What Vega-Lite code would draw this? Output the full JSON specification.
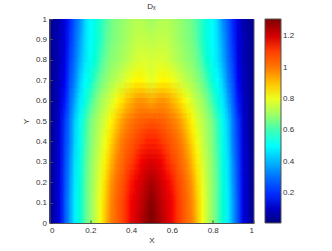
{"$schema":"https://vega.github.io/schema/vega-lite/v6.json","width":204,"height":204,"autosize":"none","padding":{"left":49.5,"top":19,"right":78.5,"bottom":28},"background":"white","title":{"text":"Dₓ","fontSize":8,"font":"Liberation Sans","fontWeight":"normal","color":"#333","offset":4},"config":{"view":{"stroke":"#555","strokeWidth":1}},"data":{"values":[
{"x":0,"y":0,"v":0.03},{"x":0.025,"y":0,"v":0.08},{"x":0.05,"y":0,"v":0.14},{"x":0.075,"y":0,"v":0.25},{"x":0.1,"y":0,"v":0.37},{"x":0.125,"y":0,"v":0.48},{"x":0.15,"y":0,"v":0.56},{"x":0.175,"y":0,"v":0.62},{"x":0.2,"y":0,"v":0.68},{"x":0.225,"y":0,"v":0.75},{"x":0.25,"y":0,"v":0.81},{"x":0.275,"y":0,"v":0.9},{"x":0.3,"y":0,"v":0.98},{"x":0.325,"y":0,"v":1.03},{"x":0.35,"y":0,"v":1.08},{"x":0.375,"y":0,"v":1.12},{"x":0.4,"y":0,"v":1.16},{"x":0.425,"y":0,"v":1.2},{"x":0.45,"y":0,"v":1.24},{"x":0.475,"y":0,"v":1.28},{"x":0.5,"y":0,"v":1.31},{"x":0.525,"y":0,"v":1.28},{"x":0.55,"y":0,"v":1.24},{"x":0.575,"y":0,"v":1.2},{"x":0.6,"y":0,"v":1.16},{"x":0.625,"y":0,"v":1.12},{"x":0.65,"y":0,"v":1.08},{"x":0.675,"y":0,"v":1.03},{"x":0.7,"y":0,"v":0.98},{"x":0.725,"y":0,"v":0.9},{"x":0.75,"y":0,"v":0.81},{"x":0.775,"y":0,"v":0.75},{"x":0.8,"y":0,"v":0.68},{"x":0.825,"y":0,"v":0.62},{"x":0.85,"y":0,"v":0.56},{"x":0.875,"y":0,"v":0.48},{"x":0.9,"y":0,"v":0.37},{"x":0.925,"y":0,"v":0.25},{"x":0.95,"y":0,"v":0.14},{"x":0.975,"y":0,"v":0.08},{"x":1,"y":0,"v":0.03},
{"x":0,"y":0.1,"v":0.03},{"x":0.025,"y":0.1,"v":0.08},{"x":0.05,"y":0.1,"v":0.14},{"x":0.075,"y":0.1,"v":0.25},{"x":0.1,"y":0.1,"v":0.37},{"x":0.125,"y":0.1,"v":0.48},{"x":0.15,"y":0.1,"v":0.56},{"x":0.175,"y":0.1,"v":0.62},{"x":0.2,"y":0.1,"v":0.68},{"x":0.225,"y":0.1,"v":0.75},{"x":0.25,"y":0.1,"v":0.81},{"x":0.275,"y":0.1,"v":0.89},{"x":0.3,"y":0.1,"v":0.97},{"x":0.325,"y":0.1,"v":1.03},{"x":0.35,"y":0.1,"v":1.08},{"x":0.375,"y":0.1,"v":1.12},{"x":0.4,"y":0.1,"v":1.16},{"x":0.425,"y":0.1,"v":1.19},{"x":0.45,"y":0.1,"v":1.22},{"x":0.475,"y":0.1,"v":1.26},{"x":0.5,"y":0.1,"v":1.3},{"x":0.525,"y":0.1,"v":1.26},{"x":0.55,"y":0.1,"v":1.22},{"x":0.575,"y":0.1,"v":1.19},{"x":0.6,"y":0.1,"v":1.16},{"x":0.625,"y":0.1,"v":1.12},{"x":0.65,"y":0.1,"v":1.08},{"x":0.675,"y":0.1,"v":1.03},{"x":0.7,"y":0.1,"v":0.97},{"x":0.725,"y":0.1,"v":0.89},{"x":0.75,"y":0.1,"v":0.81},{"x":0.775,"y":0.1,"v":0.75},{"x":0.8,"y":0.1,"v":0.68},{"x":0.825,"y":0.1,"v":0.62},{"x":0.85,"y":0.1,"v":0.56},{"x":0.875,"y":0.1,"v":0.48},{"x":0.9,"y":0.1,"v":0.37},{"x":0.925,"y":0.1,"v":0.25},{"x":0.95,"y":0.1,"v":0.14},{"x":0.975,"y":0.1,"v":0.08},{"x":1,"y":0.1,"v":0.03},
{"x":0,"y":0.2,"v":0.03},{"x":0.025,"y":0.2,"v":0.08},{"x":0.05,"y":0.2,"v":0.14},{"x":0.075,"y":0.2,"v":0.24},{"x":0.1,"y":0.2,"v":0.36},{"x":0.125,"y":0.2,"v":0.47},{"x":0.15,"y":0.2,"v":0.55},{"x":0.175,"y":0.2,"v":0.62},{"x":0.2,"y":0.2,"v":0.68},{"x":0.225,"y":0.2,"v":0.74},{"x":0.25,"y":0.2,"v":0.8},{"x":0.275,"y":0.2,"v":0.87},{"x":0.3,"y":0.2,"v":0.95},{"x":0.325,"y":0.2,"v":1.01},{"x":0.35,"y":0.2,"v":1.06},{"x":0.375,"y":0.2,"v":1.1},{"x":0.4,"y":0.2,"v":1.14},{"x":0.425,"y":0.2,"v":1.17},{"x":0.45,"y":0.2,"v":1.2},{"x":0.475,"y":0.2,"v":1.23},{"x":0.5,"y":0.2,"v":1.25},{"x":0.525,"y":0.2,"v":1.23},{"x":0.55,"y":0.2,"v":1.2},{"x":0.575,"y":0.2,"v":1.17},{"x":0.6,"y":0.2,"v":1.14},{"x":0.625,"y":0.2,"v":1.1},{"x":0.65,"y":0.2,"v":1.06},{"x":0.675,"y":0.2,"v":1.01},{"x":0.7,"y":0.2,"v":0.95},{"x":0.725,"y":0.2,"v":0.87},{"x":0.75,"y":0.2,"v":0.8},{"x":0.775,"y":0.2,"v":0.74},{"x":0.8,"y":0.2,"v":0.68},{"x":0.825,"y":0.2,"v":0.62},{"x":0.85,"y":0.2,"v":0.55},{"x":0.875,"y":0.2,"v":0.47},{"x":0.9,"y":0.2,"v":0.36},{"x":0.925,"y":0.2,"v":0.24},{"x":0.95,"y":0.2,"v":0.14},{"x":0.975,"y":0.2,"v":0.08},{"x":1,"y":0.2,"v":0.03},
{"x":0,"y":0.3,"v":0.03},{"x":0.025,"y":0.3,"v":0.08},{"x":0.05,"y":0.3,"v":0.13},{"x":0.075,"y":0.3,"v":0.23},{"x":0.1,"y":0.3,"v":0.35},{"x":0.125,"y":0.3,"v":0.46},{"x":0.15,"y":0.3,"v":0.54},{"x":0.175,"y":0.3,"v":0.61},{"x":0.2,"y":0.3,"v":0.67},{"x":0.225,"y":0.3,"v":0.73},{"x":0.25,"y":0.3,"v":0.78},{"x":0.275,"y":0.3,"v":0.84},{"x":0.3,"y":0.3,"v":0.91},{"x":0.325,"y":0.3,"v":0.97},{"x":0.35,"y":0.3,"v":1.02},{"x":0.375,"y":0.3,"v":1.07},{"x":0.4,"y":0.3,"v":1.1},{"x":0.425,"y":0.3,"v":1.13},{"x":0.45,"y":0.3,"v":1.16},{"x":0.475,"y":0.3,"v":1.18},{"x":0.5,"y":0.3,"v":1.19},{"x":0.525,"y":0.3,"v":1.18},{"x":0.55,"y":0.3,"v":1.16},{"x":0.575,"y":0.3,"v":1.13},{"x":0.6,"y":0.3,"v":1.1},{"x":0.625,"y":0.3,"v":1.07},{"x":0.65,"y":0.3,"v":1.02},{"x":0.675,"y":0.3,"v":0.97},{"x":0.7,"y":0.3,"v":0.91},{"x":0.725,"y":0.3,"v":0.84},{"x":0.75,"y":0.3,"v":0.78},{"x":0.775,"y":0.3,"v":0.73},{"x":0.8,"y":0.3,"v":0.67},{"x":0.825,"y":0.3,"v":0.61},{"x":0.85,"y":0.3,"v":0.54},{"x":0.875,"y":0.3,"v":0.46},{"x":0.9,"y":0.3,"v":0.35},{"x":0.925,"y":0.3,"v":0.23},{"x":0.95,"y":0.3,"v":0.13},{"x":0.975,"y":0.3,"v":0.08},{"x":1,"y":0.3,"v":0.03},
{"x":0,"y":0.4,"v":0.03},{"x":0.025,"y":0.4,"v":0.07},{"x":0.05,"y":0.4,"v":0.13},{"x":0.075,"y":0.4,"v":0.22},{"x":0.1,"y":0.4,"v":0.33},{"x":0.125,"y":0.4,"v":0.44},{"x":0.15,"y":0.4,"v":0.53},{"x":0.175,"y":0.4,"v":0.6},{"x":0.2,"y":0.4,"v":0.66},{"x":0.225,"y":0.4,"v":0.71},{"x":0.25,"y":0.4,"v":0.76},{"x":0.275,"y":0.4,"v":0.81},{"x":0.3,"y":0.4,"v":0.87},{"x":0.325,"y":0.4,"v":0.93},{"x":0.35,"y":0.4,"v":0.98},{"x":0.375,"y":0.4,"v":1.03},{"x":0.4,"y":0.4,"v":1.06},{"x":0.425,"y":0.4,"v":1.09},{"x":0.45,"y":0.4,"v":1.11},{"x":0.475,"y":0.4,"v":1.13},{"x":0.5,"y":0.4,"v":1.13},{"x":0.525,"y":0.4,"v":1.13},{"x":0.55,"y":0.4,"v":1.11},{"x":0.575,"y":0.4,"v":1.09},{"x":0.6,"y":0.4,"v":1.06},{"x":0.625,"y":0.4,"v":1.03},{"x":0.65,"y":0.4,"v":0.98},{"x":0.675,"y":0.4,"v":0.93},{"x":0.7,"y":0.4,"v":0.87},{"x":0.725,"y":0.4,"v":0.81},{"x":0.75,"y":0.4,"v":0.76},{"x":0.775,"y":0.4,"v":0.71},{"x":0.8,"y":0.4,"v":0.66},{"x":0.825,"y":0.4,"v":0.6},{"x":0.85,"y":0.4,"v":0.53},{"x":0.875,"y":0.4,"v":0.44},{"x":0.9,"y":0.4,"v":0.33},{"x":0.925,"y":0.4,"v":0.22},{"x":0.95,"y":0.4,"v":0.13},{"x":0.975,"y":0.4,"v":0.07},{"x":1,"y":0.4,"v":0.03},
{"x":0,"y":0.5,"v":0.03},{"x":0.025,"y":0.5,"v":0.07},{"x":0.05,"y":0.5,"v":0.12},{"x":0.075,"y":0.5,"v":0.21},{"x":0.1,"y":0.5,"v":0.32},{"x":0.125,"y":0.5,"v":0.43},{"x":0.15,"y":0.5,"v":0.52},{"x":0.175,"y":0.5,"v":0.59},{"x":0.2,"y":0.5,"v":0.65},{"x":0.225,"y":0.5,"v":0.7},{"x":0.25,"y":0.5,"v":0.74},{"x":0.275,"y":0.5,"v":0.78},{"x":0.3,"y":0.5,"v":0.83},{"x":0.325,"y":0.5,"v":0.88},{"x":0.35,"y":0.5,"v":0.93},{"x":0.375,"y":0.5,"v":0.97},{"x":0.4,"y":0.5,"v":1},{"x":0.425,"y":0.5,"v":1.03},{"x":0.45,"y":0.5,"v":1.05},{"x":0.475,"y":0.5,"v":1.06},{"x":0.5,"y":0.5,"v":1.07},{"x":0.525,"y":0.5,"v":1.06},{"x":0.55,"y":0.5,"v":1.05},{"x":0.575,"y":0.5,"v":1.03},{"x":0.6,"y":0.5,"v":1},{"x":0.625,"y":0.5,"v":0.97},{"x":0.65,"y":0.5,"v":0.93},{"x":0.675,"y":0.5,"v":0.88},{"x":0.7,"y":0.5,"v":0.83},{"x":0.725,"y":0.5,"v":0.78},{"x":0.75,"y":0.5,"v":0.74},{"x":0.775,"y":0.5,"v":0.7},{"x":0.8,"y":0.5,"v":0.65},{"x":0.825,"y":0.5,"v":0.59},{"x":0.85,"y":0.5,"v":0.52},{"x":0.875,"y":0.5,"v":0.43},{"x":0.9,"y":0.5,"v":0.32},{"x":0.925,"y":0.5,"v":0.21},{"x":0.95,"y":0.5,"v":0.12},{"x":0.975,"y":0.5,"v":0.07},{"x":1,"y":0.5,"v":0.03},
{"x":0,"y":0.6,"v":0.03},{"x":0.025,"y":0.6,"v":0.06},{"x":0.05,"y":0.6,"v":0.11},{"x":0.075,"y":0.6,"v":0.18},{"x":0.1,"y":0.6,"v":0.28},{"x":0.125,"y":0.6,"v":0.38},{"x":0.15,"y":0.6,"v":0.47},{"x":0.175,"y":0.6,"v":0.54},{"x":0.2,"y":0.6,"v":0.6},{"x":0.225,"y":0.6,"v":0.65},{"x":0.25,"y":0.6,"v":0.7},{"x":0.275,"y":0.6,"v":0.74},{"x":0.3,"y":0.6,"v":0.77},{"x":0.325,"y":0.6,"v":0.81},{"x":0.35,"y":0.6,"v":0.85},{"x":0.375,"y":0.6,"v":0.89},{"x":0.4,"y":0.6,"v":0.92},{"x":0.425,"y":0.6,"v":0.95},{"x":0.45,"y":0.6,"v":0.96},{"x":0.475,"y":0.6,"v":0.95},{"x":0.5,"y":0.6,"v":0.93},{"x":0.525,"y":0.6,"v":0.95},{"x":0.55,"y":0.6,"v":0.96},{"x":0.575,"y":0.6,"v":0.95},{"x":0.6,"y":0.6,"v":0.92},{"x":0.625,"y":0.6,"v":0.89},{"x":0.65,"y":0.6,"v":0.85},{"x":0.675,"y":0.6,"v":0.81},{"x":0.7,"y":0.6,"v":0.77},{"x":0.725,"y":0.6,"v":0.74},{"x":0.75,"y":0.6,"v":0.7},{"x":0.775,"y":0.6,"v":0.65},{"x":0.8,"y":0.6,"v":0.6},{"x":0.825,"y":0.6,"v":0.54},{"x":0.85,"y":0.6,"v":0.47},{"x":0.875,"y":0.6,"v":0.38},{"x":0.9,"y":0.6,"v":0.28},{"x":0.925,"y":0.6,"v":0.18},{"x":0.95,"y":0.6,"v":0.11},{"x":0.975,"y":0.6,"v":0.06},{"x":1,"y":0.6,"v":0.03},
{"x":0,"y":0.7,"v":0.03},{"x":0.025,"y":0.7,"v":0.06},{"x":0.05,"y":0.7,"v":0.1},{"x":0.075,"y":0.7,"v":0.16},{"x":0.1,"y":0.7,"v":0.25},{"x":0.125,"y":0.7,"v":0.34},{"x":0.15,"y":0.7,"v":0.43},{"x":0.175,"y":0.7,"v":0.5},{"x":0.2,"y":0.7,"v":0.55},{"x":0.225,"y":0.7,"v":0.6},{"x":0.25,"y":0.7,"v":0.64},{"x":0.275,"y":0.7,"v":0.68},{"x":0.3,"y":0.7,"v":0.71},{"x":0.325,"y":0.7,"v":0.74},{"x":0.35,"y":0.7,"v":0.76},{"x":0.375,"y":0.7,"v":0.79},{"x":0.4,"y":0.7,"v":0.81},{"x":0.425,"y":0.7,"v":0.83},{"x":0.45,"y":0.7,"v":0.83},{"x":0.475,"y":0.7,"v":0.81},{"x":0.5,"y":0.7,"v":0.79},{"x":0.525,"y":0.7,"v":0.81},{"x":0.55,"y":0.7,"v":0.83},{"x":0.575,"y":0.7,"v":0.83},{"x":0.6,"y":0.7,"v":0.81},{"x":0.625,"y":0.7,"v":0.79},{"x":0.65,"y":0.7,"v":0.76},{"x":0.675,"y":0.7,"v":0.74},{"x":0.7,"y":0.7,"v":0.71},{"x":0.725,"y":0.7,"v":0.68},{"x":0.75,"y":0.7,"v":0.64},{"x":0.775,"y":0.7,"v":0.6},{"x":0.8,"y":0.7,"v":0.55},{"x":0.825,"y":0.7,"v":0.5},{"x":0.85,"y":0.7,"v":0.43},{"x":0.875,"y":0.7,"v":0.34},{"x":0.9,"y":0.7,"v":0.25},{"x":0.925,"y":0.7,"v":0.16},{"x":0.95,"y":0.7,"v":0.1},{"x":0.975,"y":0.7,"v":0.06},{"x":1,"y":0.7,"v":0.03},
{"x":0,"y":0.8,"v":0.03},{"x":0.025,"y":0.8,"v":0.06},{"x":0.05,"y":0.8,"v":0.09},{"x":0.075,"y":0.8,"v":0.14},{"x":0.1,"y":0.8,"v":0.22},{"x":0.125,"y":0.8,"v":0.31},{"x":0.15,"y":0.8,"v":0.39},{"x":0.175,"y":0.8,"v":0.46},{"x":0.2,"y":0.8,"v":0.52},{"x":0.225,"y":0.8,"v":0.56},{"x":0.25,"y":0.8,"v":0.6},{"x":0.275,"y":0.8,"v":0.64},{"x":0.3,"y":0.8,"v":0.67},{"x":0.325,"y":0.8,"v":0.69},{"x":0.35,"y":0.8,"v":0.71},{"x":0.375,"y":0.8,"v":0.73},{"x":0.4,"y":0.8,"v":0.75},{"x":0.425,"y":0.8,"v":0.77},{"x":0.45,"y":0.8,"v":0.78},{"x":0.475,"y":0.8,"v":0.78},{"x":0.5,"y":0.8,"v":0.77},{"x":0.525,"y":0.8,"v":0.78},{"x":0.55,"y":0.8,"v":0.78},{"x":0.575,"y":0.8,"v":0.77},{"x":0.6,"y":0.8,"v":0.75},{"x":0.625,"y":0.8,"v":0.73},{"x":0.65,"y":0.8,"v":0.71},{"x":0.675,"y":0.8,"v":0.69},{"x":0.7,"y":0.8,"v":0.67},{"x":0.725,"y":0.8,"v":0.64},{"x":0.75,"y":0.8,"v":0.6},{"x":0.775,"y":0.8,"v":0.56},{"x":0.8,"y":0.8,"v":0.52},{"x":0.825,"y":0.8,"v":0.46},{"x":0.85,"y":0.8,"v":0.39},{"x":0.875,"y":0.8,"v":0.31},{"x":0.9,"y":0.8,"v":0.22},{"x":0.925,"y":0.8,"v":0.14},{"x":0.95,"y":0.8,"v":0.09},{"x":0.975,"y":0.8,"v":0.06},{"x":1,"y":0.8,"v":0.03},
{"x":0,"y":0.9,"v":0.03},{"x":0.025,"y":0.9,"v":0.06},{"x":0.05,"y":0.9,"v":0.09},{"x":0.075,"y":0.9,"v":0.13},{"x":0.1,"y":0.9,"v":0.2},{"x":0.125,"y":0.9,"v":0.29},{"x":0.15,"y":0.9,"v":0.37},{"x":0.175,"y":0.9,"v":0.45},{"x":0.2,"y":0.9,"v":0.5},{"x":0.225,"y":0.9,"v":0.54},{"x":0.25,"y":0.9,"v":0.58},{"x":0.275,"y":0.9,"v":0.62},{"x":0.3,"y":0.9,"v":0.65},{"x":0.325,"y":0.9,"v":0.67},{"x":0.35,"y":0.9,"v":0.69},{"x":0.375,"y":0.9,"v":0.71},{"x":0.4,"y":0.9,"v":0.73},{"x":0.425,"y":0.9,"v":0.75},{"x":0.45,"y":0.9,"v":0.75},{"x":0.475,"y":0.9,"v":0.75},{"x":0.5,"y":0.9,"v":0.74},{"x":0.525,"y":0.9,"v":0.75},{"x":0.55,"y":0.9,"v":0.75},{"x":0.575,"y":0.9,"v":0.75},{"x":0.6,"y":0.9,"v":0.73},{"x":0.625,"y":0.9,"v":0.71},{"x":0.65,"y":0.9,"v":0.69},{"x":0.675,"y":0.9,"v":0.67},{"x":0.7,"y":0.9,"v":0.65},{"x":0.725,"y":0.9,"v":0.62},{"x":0.75,"y":0.9,"v":0.58},{"x":0.775,"y":0.9,"v":0.54},{"x":0.8,"y":0.9,"v":0.5},{"x":0.825,"y":0.9,"v":0.45},{"x":0.85,"y":0.9,"v":0.37},{"x":0.875,"y":0.9,"v":0.29},{"x":0.9,"y":0.9,"v":0.2},{"x":0.925,"y":0.9,"v":0.13},{"x":0.95,"y":0.9,"v":0.09},{"x":0.975,"y":0.9,"v":0.06},{"x":1,"y":0.9,"v":0.03},
{"x":0,"y":1,"v":0.03},{"x":0.025,"y":1,"v":0.05},{"x":0.05,"y":1,"v":0.08},{"x":0.075,"y":1,"v":0.13},{"x":0.1,"y":1,"v":0.19},{"x":0.125,"y":1,"v":0.27},{"x":0.15,"y":1,"v":0.35},{"x":0.175,"y":1,"v":0.44},{"x":0.2,"y":1,"v":0.5},{"x":0.225,"y":1,"v":0.54},{"x":0.25,"y":1,"v":0.58},{"x":0.275,"y":1,"v":0.61},{"x":0.3,"y":1,"v":0.64},{"x":0.325,"y":1,"v":0.66},{"x":0.35,"y":1,"v":0.68},{"x":0.375,"y":1,"v":0.7},{"x":0.4,"y":1,"v":0.72},{"x":0.425,"y":1,"v":0.73},{"x":0.45,"y":1,"v":0.73},{"x":0.475,"y":1,"v":0.72},{"x":0.5,"y":1,"v":0.7},{"x":0.525,"y":1,"v":0.72},{"x":0.55,"y":1,"v":0.73},{"x":0.575,"y":1,"v":0.73},{"x":0.6,"y":1,"v":0.72},{"x":0.625,"y":1,"v":0.7},{"x":0.65,"y":1,"v":0.68},{"x":0.675,"y":1,"v":0.66},{"x":0.7,"y":1,"v":0.64},{"x":0.725,"y":1,"v":0.61},{"x":0.75,"y":1,"v":0.58},{"x":0.775,"y":1,"v":0.54},{"x":0.8,"y":1,"v":0.5},{"x":0.825,"y":1,"v":0.44},{"x":0.85,"y":1,"v":0.35},{"x":0.875,"y":1,"v":0.27},{"x":0.9,"y":1,"v":0.19},{"x":0.925,"y":1,"v":0.13},{"x":0.95,"y":1,"v":0.08},{"x":0.975,"y":1,"v":0.05},{"x":1,"y":1,"v":0.03}
]},"encoding":{"x":{"field":"x","type":"quantitative","scale":{"domain":[0,1],"nice":false},"axis":{"title":"X","values":[0,0.2,0.4,0.6,0.8,1],"format":"~g","grid":false,"tickSize":-3,"tickColor":"#444","domainColor":"#555","labelColor":"#333","labelFont":"Liberation Sans","labelFontSize":8,"labelPadding":6,"titleFont":"Liberation Sans","titleFontSize":8,"titleFontWeight":"normal","titleColor":"#333","titlePadding":2,"zindex":1}},"y":{"field":"y","type":"quantitative","scale":{"domain":[0,1],"nice":false},"axis":{"title":"Y","values":[0,0.1,0.2,0.3,0.4,0.5,0.6,0.7,0.8,0.9,1],"format":"~g","grid":false,"tickSize":-3,"tickColor":"#444","domainColor":"#555","labelColor":"#333","labelFont":"Liberation Sans","labelFontSize":8,"labelPadding":6,"titleFont":"Liberation Sans","titleFontSize":8,"titleFontWeight":"normal","titleColor":"#333","titlePadding":5,"zindex":1}},"color":{"field":"v","type":"quantitative","scale":{"domain":[0.01,1.31],"range":["#00007f","#0000ff","#007fff","#00ffff","#7fff7f","#ffff00","#ff7f00","#ff0000","#7f0000"]},"legend":{"type":"gradient","orient":"none","legendX":215.5,"legendY":0,"title":null,"gradientLength":204,"gradientThickness":16,"gradientOpacity":1,"gradientStrokeColor":"#555","gradientStrokeWidth":1,"values":[0.2,0.4,0.6,0.8,1,1.2],"format":".1~f","labelColor":"#333","labelFont":"Liberation Sans","labelFontSize":8,"labelOffset":2}}},"layer":[{"mark":{"type":"rect","width":5.8,"height":21,"clip":true,"xOffset":-1.9,"yOffset":-2.55}},{"mark":{"type":"rect","width":5.1,"height":20.4,"clip":true,"opacity":0.5,"xOffset":-0.64,"yOffset":7.65}},{"mark":{"type":"rect","width":5.1,"height":20.4,"clip":true,"opacity":0.333,"xOffset":0.64,"yOffset":-7.65}},{"mark":{"type":"rect","width":5.1,"height":20.4,"clip":true,"opacity":0.25,"xOffset":1.9,"yOffset":2.55}}]}
